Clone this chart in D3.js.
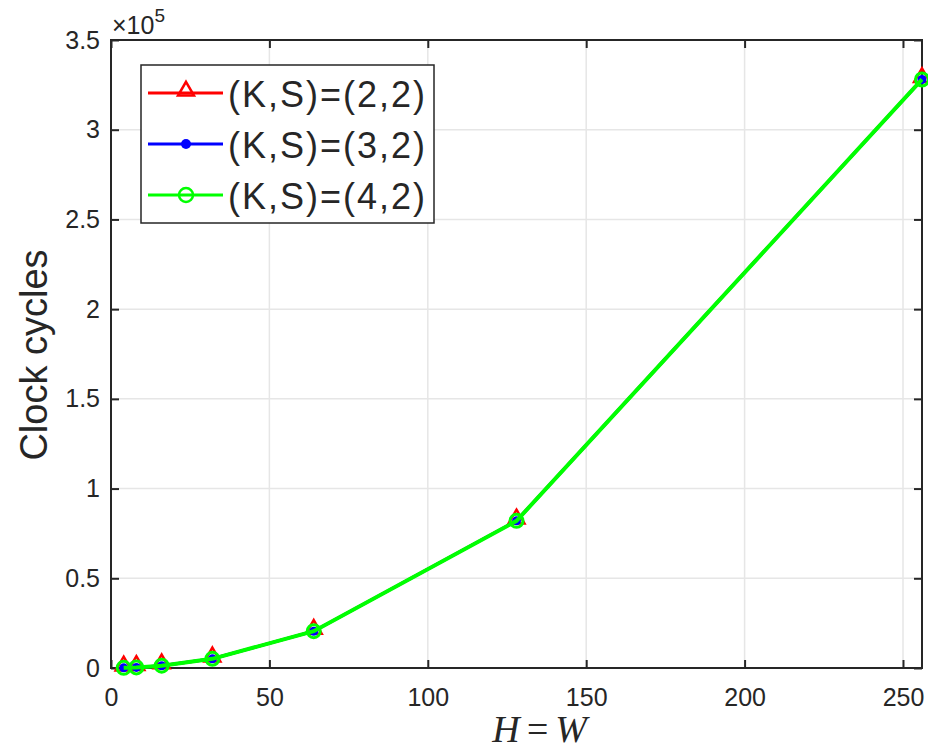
<!DOCTYPE html>
<html>
<head>
<meta charset="utf-8">
<script src="https://cdn.jsdelivr.net/npm/d3@7"></script>
<style>
  body { margin: 0; background: #fff; }
  text { font-family: "Liberation Sans", Arial, sans-serif; fill: #262626; }
</style>
</head>
<body>
<svg id="chart" width="928" height="752"></svg>
<script>
// data
var sizes = [4, 8, 16, 32, 64, 128, 256];
var cyclesK2 = [80, 320, 1280, 5120, 20500, 82000, 328000];
var cyclesK3 = [80, 320, 1280, 5120, 20500, 82000, 328000];
var cyclesK4 = [80, 320, 1280, 5120, 20500, 82000, 328000];
var seriesNames = ["(K,S)=(2,2)", "(K,S)=(3,2)", "(K,S)=(4,2)"];
var xTicks = [0, 50, 100, 150, 200, 250];
var yTicks = [0, 0.5, 1, 1.5, 2, 2.5, 3, 3.5];

var svg = d3.select("#chart");
var margin = { top: 40, right: 6, bottom: 84, left: 111 };
var width = 928 - margin.left - margin.right;
var height = 752 - margin.top - margin.bottom;

var g = svg.append("g")
  .attr("transform", "translate(" + margin.left + "," + margin.top + ")");

var x = d3.scaleLinear().domain([0, 256]).range([0, width]);
var y = d3.scaleLinear().domain([0, 3.5e5]).range([height, 0]);

// grid
g.selectAll(".gx").data(xTicks).enter().append("line")
  .attr("x1", function(d) { return x(d); }).attr("x2", function(d) { return x(d); })
  .attr("y1", 0).attr("y2", height)
  .attr("stroke", "#e6e6e6").attr("stroke-width", 1.5);
g.selectAll(".gy").data(yTicks).enter().append("line")
  .attr("y1", function(d) { return y(d * 1e5); }).attr("y2", function(d) { return y(d * 1e5); })
  .attr("x1", 0).attr("x2", width)
  .attr("stroke", "#e6e6e6").attr("stroke-width", 1.5);

// axes (ticks inside, box on all sides)
var axisColor = "#262626";
function styleAxis(sel) {
  sel.select(".domain").remove();
  sel.selectAll(".tick line").attr("stroke", axisColor).attr("stroke-width", 2);
  sel.selectAll(".tick text").style("font-size", "25px").attr("fill", axisColor);
}
g.append("g").attr("transform", "translate(0," + height + ")")
  .call(d3.axisBottom(x).tickValues(xTicks).tickSize(-8).tickPadding(20))
  .call(styleAxis);
g.append("g")
  .call(d3.axisTop(x).tickValues(xTicks).tickSize(-8).tickFormat(""))
  .call(styleAxis);
g.append("g")
  .call(d3.axisLeft(y).tickValues(yTicks.map(function(d) { return d * 1e5; }))
    .tickSize(-8).tickPadding(11).tickFormat(function(d) { return d3.format("")(d / 1e5); }))
  .call(styleAxis);
g.append("g").attr("transform", "translate(" + width + ",0)")
  .call(d3.axisRight(y).tickValues(yTicks.map(function(d) { return d * 1e5; })).tickSize(-8).tickFormat(""))
  .call(styleAxis);
g.append("rect").attr("width", width).attr("height", height)
  .attr("fill", "none").attr("stroke", axisColor).attr("stroke-width", 2);

// lines and markers
var line = d3.line()
  .x(function(d) { return x(d[0]); })
  .y(function(d) { return y(d[1]); });

var all = [cyclesK2, cyclesK3, cyclesK4];
var colors = ["#ff0000", "#0000ff", "#00ff00"];
var lineWidths = [3, 3, 4];

var plot = g.append("g");
var tri = d3.symbol().type(d3.symbolTriangle).size(110);

all.forEach(function(vals, i) {
  var pts = sizes.map(function(s, j) { return [s, vals[j]]; });
  plot.append("path").datum(pts)
    .attr("d", line).attr("fill", "none")
    .attr("stroke", colors[i]).attr("stroke-width", lineWidths[i]);
  var m = plot.selectAll(".m" + i).data(pts).enter().append("g")
    .attr("transform", function(d) { return "translate(" + x(d[0]) + "," + y(d[1]) + ")"; });
  if (i === 0) {
    m.append("path").attr("d", tri).attr("transform", "translate(0,-2)")
      .attr("fill", "none").attr("stroke", colors[0]).attr("stroke-width", 2.5);
  } else if (i === 1) {
    m.append("circle").attr("r", 4.5).attr("fill", colors[1]);
  } else {
    m.append("circle").attr("r", 6.5).attr("fill", "none")
      .attr("stroke", colors[2]).attr("stroke-width", 3);
  }
});

// exponent label
var ex = svg.append("text").attr("x", 112).attr("y", 34).style("font-size", "25px");
ex.append("tspan").text("\u00d710");
ex.append("tspan").attr("dy", -12).style("font-size", "19px").text("5");

// axis labels
svg.append("text")
  .attr("transform", "translate(47," + (margin.top + height / 2 + 1) + ") rotate(-90)")
  .attr("text-anchor", "middle")
  .style("font-size", "38px")
  .attr("fill", "#1a1a1a")
  .text("Clock cycles");

svg.append("text")
  .attr("x", 542).attr("y", 742)
  .attr("text-anchor", "middle")
  .style("font-family", "'Liberation Serif', 'Times New Roman', serif")
  .style("font-size", "38px").style("font-style", "italic")
  .style("letter-spacing", "5px")
  .attr("fill", "#1a1a1a")
  .text("H=W");

// legend
var lg = svg.append("g").attr("transform", "translate(141,65)");
lg.append("rect").attr("width", 293).attr("height", 158)
  .attr("fill", "#fff").attr("stroke", "#262626").attr("stroke-width", 1.5);
seriesNames.forEach(function(name, i) {
  var yy = 28 + i * 51;
  lg.append("line").attr("x1", 7).attr("x2", 82).attr("y1", yy).attr("y2", yy)
    .attr("stroke", colors[i]).attr("stroke-width", 3);
  var mk = lg.append("g").attr("transform", "translate(45," + yy + ")");
  if (i === 0) {
    mk.append("path").attr("d", tri).attr("transform", "translate(0,-2)")
      .attr("fill", "none").attr("stroke", colors[0]).attr("stroke-width", 2.5);
  } else if (i === 1) {
    mk.append("circle").attr("r", 5).attr("fill", colors[1]);
  } else {
    mk.append("circle").attr("r", 7).attr("fill", "none")
      .attr("stroke", colors[2]).attr("stroke-width", 2.5);
  }
  lg.append("text").attr("x", 87).attr("y", yy + 14)
    .style("font-size", "36px").attr("fill", "#000")
    .attr("textLength", 197).attr("lengthAdjust", "spacing")
    .text(name);
});
</script>
</body>
</html>
